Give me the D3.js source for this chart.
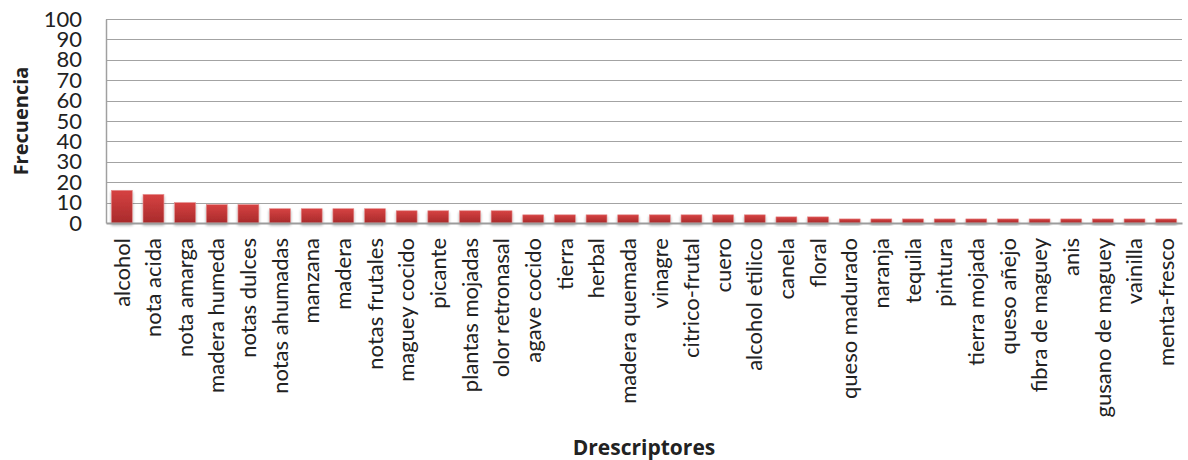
<!DOCTYPE html>
<html>
<head>
<meta charset="utf-8">
<script src="https://cdn.jsdelivr.net/npm/d3@7"></script>
<style>
  html, body { margin: 0; padding: 0; background: #fff; }
  svg { display: block; }
  text { font-family: Lato, "Open Sans", sans-serif; fill: #222; }
</style>
</head>
<body>
<svg id="chart" width="1188" height="460"></svg>
<script>
// Descriptores and their frequency counts
const categories = [
  "alcohol", "nota acida", "nota amarga", "madera humeda", "notas dulces",
  "notas ahumadas", "manzana", "madera", "notas frutales", "maguey cocido",
  "picante", "plantas mojadas", "olor retronasal", "agave cocido", "tierra",
  "herbal", "madera quemada", "vinagre", "citrico-frutal", "cuero",
  "alcohol etilico", "canela", "floral", "queso madurado", "naranja",
  "tequila", "pintura", "tierra mojada", "queso añejo", "fibra de maguey",
  "anis", "gusano de maguey", "vainilla", "menta-fresco"
];
const frecuencia = [
  16, 14, 10, 9, 9, 7, 7, 7, 7, 6,
  6, 6, 6, 4, 4, 4, 4, 4, 4, 4,
  4, 3, 3, 2, 2, 2, 2, 2, 2, 2,
  2, 2, 2, 2
];
const yTicks = [0, 10, 20, 30, 40, 50, 60, 70, 80, 90, 100];
const yTitle = "Frecuencia";
const xTitle = "Drescriptores";

const svg = d3.select("#chart");
const plot = { left: 106, right: 1182, top: 19, bottom: 223 };

const x = d3.scaleBand()
  .domain(categories)
  .range([plot.left, plot.right])
  .paddingInner(0.34)
  .paddingOuter(0.17);

const y = d3.scaleLinear()
  .domain([0, 100])
  .range([plot.bottom, plot.top]);

const defs = svg.append("defs");
const grad = defs.append("linearGradient")
  .attr("id", "barFill")
  .attr("x1", 0).attr("y1", 0).attr("x2", 0).attr("y2", 1);
grad.append("stop").attr("offset", "0%").attr("stop-color", "#d64242");
grad.append("stop").attr("offset", "100%").attr("stop-color", "#a82a2b");

const shadow = defs.append("filter")
  .attr("id", "barShadow")
  .attr("x", "-30%").attr("y", "-30%").attr("width", "160%").attr("height", "180%");
shadow.append("feGaussianBlur").attr("in", "SourceAlpha").attr("stdDeviation", 1.6).attr("result", "b");
shadow.append("feOffset").attr("in", "b").attr("dx", 0).attr("dy", 2).attr("result", "o");
shadow.append("feComponentTransfer").attr("in", "o").attr("result", "s")
  .append("feFuncA").attr("type", "linear").attr("slope", 0.35);
const merge = shadow.append("feMerge");
merge.append("feMergeNode").attr("in", "s");
merge.append("feMergeNode").attr("in", "SourceGraphic");

// Horizontal gridlines
svg.append("g")
  .selectAll("line")
  .data(yTicks.filter(d => d > 0))
  .join("line")
  .attr("x1", plot.left).attr("x2", plot.right)
  .attr("y1", d => Math.round(y(d)) + 0.5)
  .attr("y2", d => Math.round(y(d)) + 0.5)
  .attr("stroke", "#a3a3a3")
  .attr("stroke-width", 1.2);

// Left axis with numeric labels
const yAxis = svg.append("g")
  .attr("transform", `translate(${plot.left},0)`)
  .call(d3.axisLeft(y).tickValues(yTicks).tickSize(0).tickPadding(24).tickFormat(d3.format("d")));
yAxis.select(".domain").attr("stroke", "#a0a0a0").attr("stroke-width", 1.5);
yAxis.selectAll("text")
  .style("font-family", "Lato, 'Open Sans', sans-serif")
  .style("font-size", "22px")
  .attr("fill", "#2a2a2a");

// Bars
svg.append("g")
  .selectAll("rect")
  .data(categories)
  .join("rect")
  .attr("x", d => x(d))
  .attr("width", x.bandwidth())
  .attr("y", (d, i) => y(frecuencia[i]))
  .attr("height", (d, i) => y(0) - y(frecuencia[i]))
  .attr("fill", "url(#barFill)")
  .attr("stroke", "#e58a8a")
  .attr("stroke-width", 0.6)
  .attr("filter", "url(#barShadow)");

// Bottom axis with rotated category labels
const xAxis = svg.append("g")
  .attr("transform", `translate(0,${plot.bottom})`)
  .call(d3.axisBottom(x).tickSize(0).tickPadding(0));
xAxis.select(".domain").attr("stroke", "#9c9c9c").attr("stroke-width", 2);
xAxis.selectAll("text")
  .style("font-family", "Lato, 'Open Sans', sans-serif")
  .style("font-size", "22px")
  .attr("fill", "#2a2a2a")
  .attr("transform", "rotate(-90)")
  .attr("text-anchor", "end")
  .attr("x", -15)
  .attr("y", 0)
  .attr("dy", "0.35em");

// Axis titles
svg.append("text")
  .attr("transform", "translate(28,121) rotate(-90)")
  .attr("text-anchor", "middle")
  .style("font-family", "'Open Sans', sans-serif")
  .style("font-size", "20px")
  .style("font-weight", "bold")
  .text(yTitle);

svg.append("text")
  .attr("x", 644)
  .attr("y", 455)
  .attr("text-anchor", "middle")
  .style("font-family", "'Open Sans', sans-serif")
  .style("font-size", "21px")
  .style("font-weight", "bold")
  .text(xTitle);
</script>
</body>
</html>
